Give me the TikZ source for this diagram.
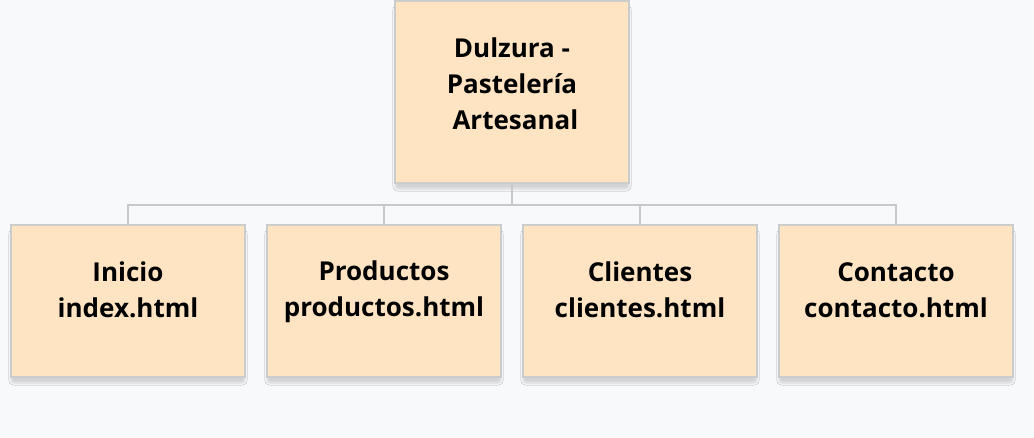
\documentclass[tikz,border=0pt]{standalone}
\usepackage{fontspec}
\setmainfont{Open Sans}
\usepackage{xcolor}
\usetikzlibrary{positioning,shadows.blur}
\definecolor{bgcol}{HTML}{F8F9FB}
\definecolor{boxfill}{HTML}{FFE4C4}
\definecolor{boxline}{HTML}{CCCCCC}
\definecolor{linkcol}{HTML}{C8C8C8}
\begin{document}
\begin{tikzpicture}[x=1pt,y=-1pt]

\tikzset{page/.style = {shape=rectangle,draw=boxline,line width=1.5pt,fill=boxfill,minimum width=234pt,minimum height=152pt,inner sep=0pt,
  blur shadow={shadow xshift=0pt,shadow yshift=-6pt,shadow blur steps=8,shadow blur extra rounding=3pt,shadow opacity=15}}}
\tikzset{pagetext/.style = {align=center,font=\fontsize{26}{36}\selectfont\bfseries,inner sep=0pt}}
\tikzset{link/.style = {draw=linkcol,line width=1.5pt}}

\useasboundingbox[fill=bgcol] (0,0) rectangle (1034,438);

% pages
\node[page,minimum height=182pt] (home) at (512,92) {};
\node[page] (inicio) at (128,301) {};
\node[page] (productos) at (384,301) {};
\node[page] (clientes) at (640,301) {};
\node[page] (contacto) at (896,301) {};

% texts
\node[pagetext] (home-txt) at ([yshift=8pt]home.center) {Dulzura -\\Pastelería\\\ Artesanal};
\node[pagetext] (inicio-txt) at ([yshift=11pt]inicio.center) {Inicio\\index.html};
\node[pagetext] (productos-txt) at ([yshift=9pt]productos.center) {Productos\\productos.html};
\node[pagetext] (clientes-txt) at ([yshift=11pt]clientes.center) {Clientes\\clientes.html};
\node[pagetext] (contacto-txt) at ([yshift=11pt]contacto.center) {Contacto\\contacto.html};

% links
\coordinate (fork) at (512,205);
\draw[link] (home.south) -- (fork);
\foreach \p in {inicio,productos,clientes,contacto}
  \draw[link] (fork) -| (\p.north);
\end{tikzpicture}
\end{document}
